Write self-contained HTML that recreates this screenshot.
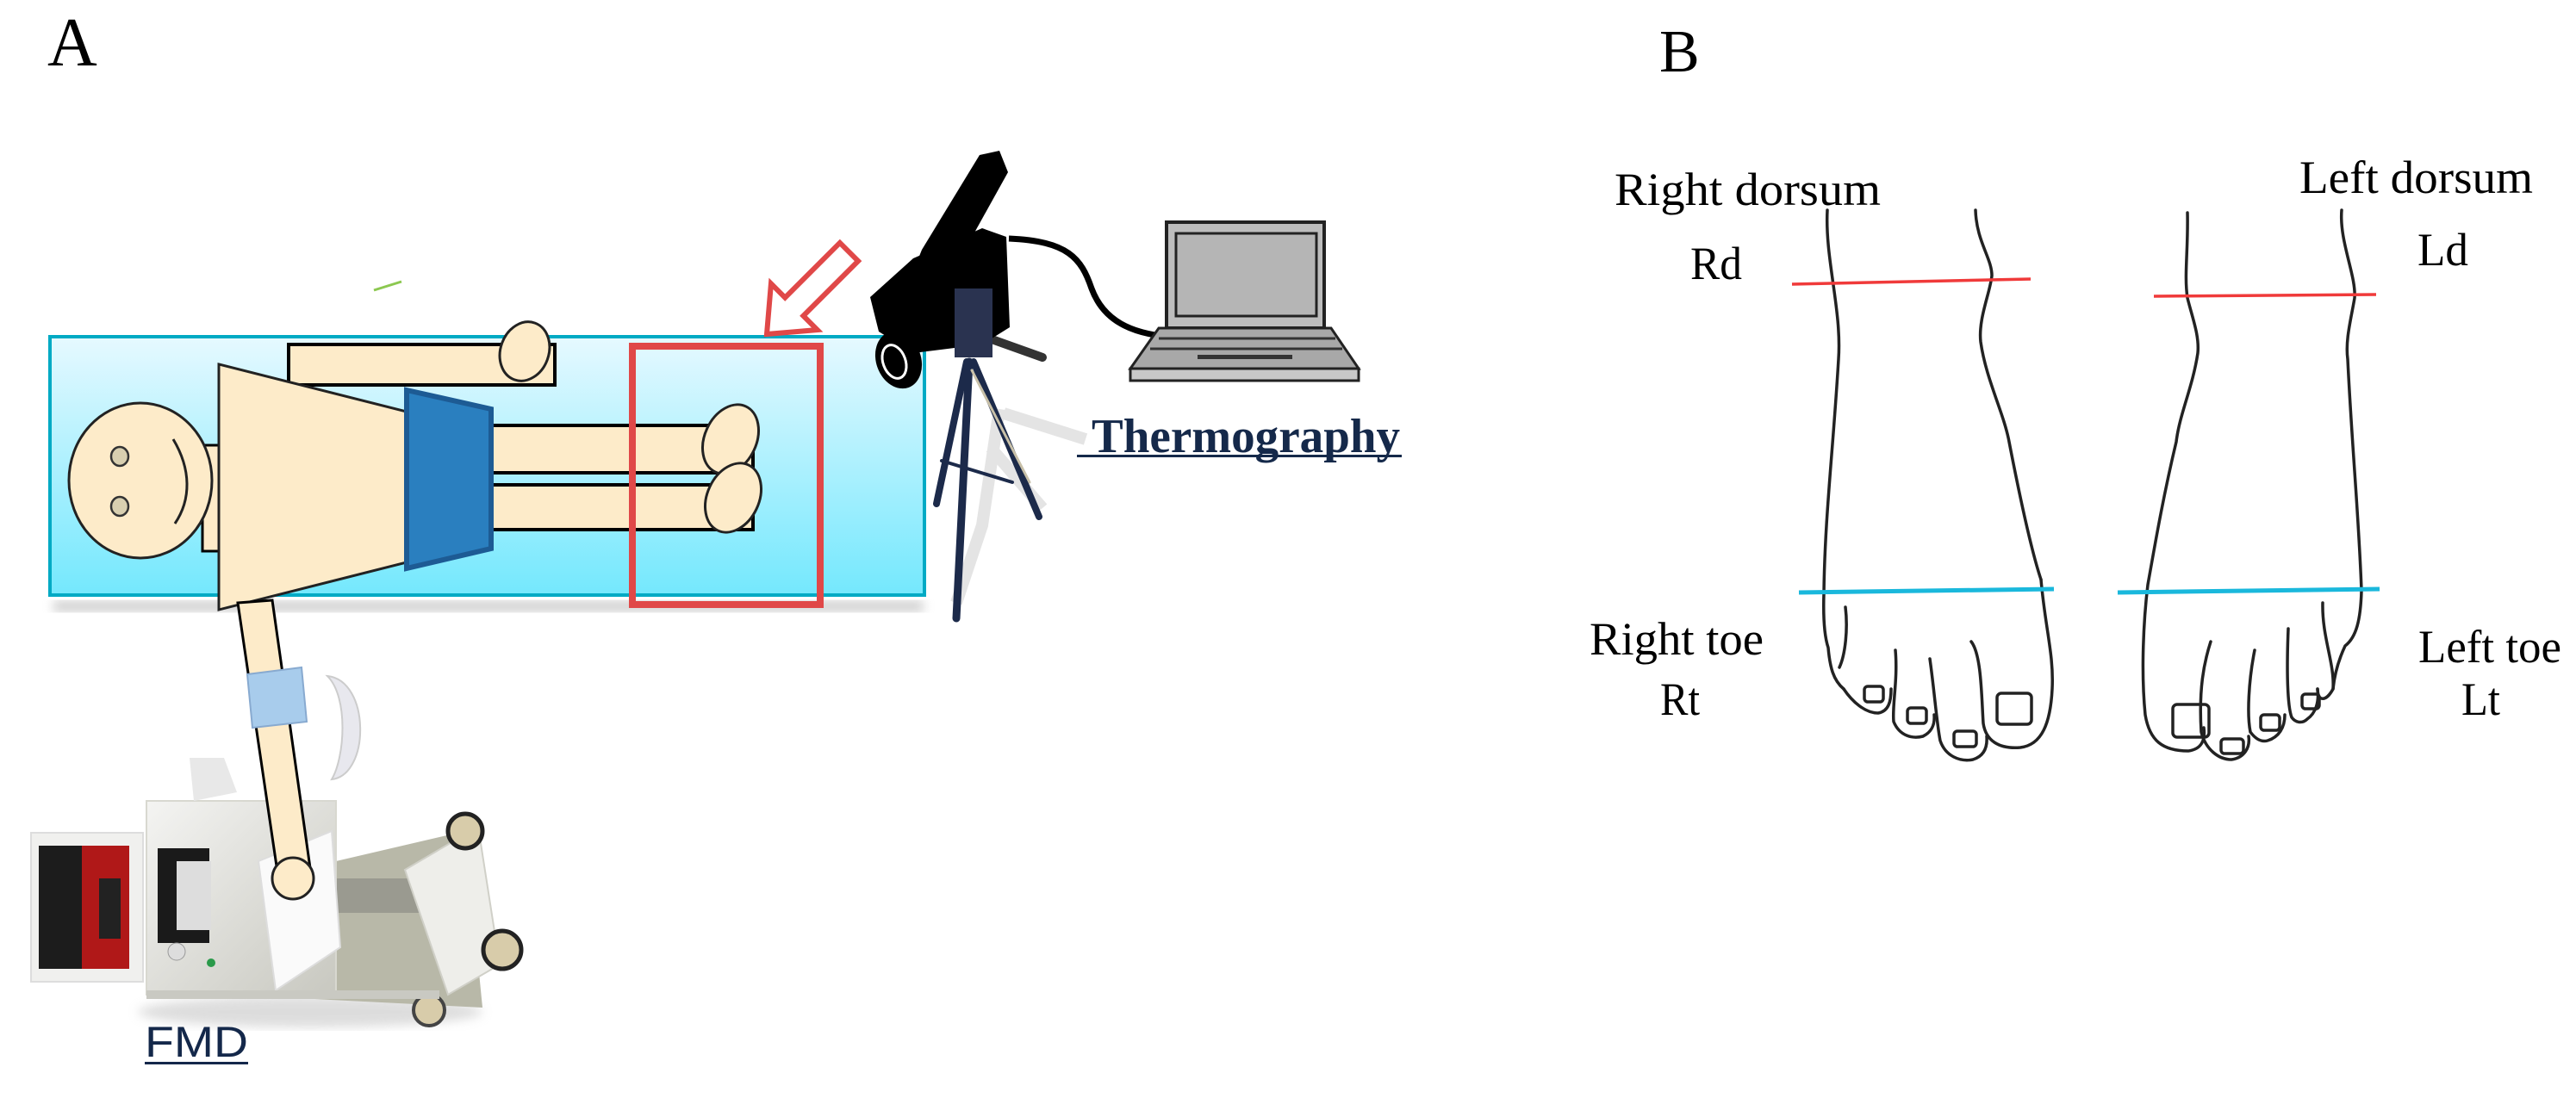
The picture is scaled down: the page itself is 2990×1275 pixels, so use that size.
<!DOCTYPE html>
<html><head><meta charset="utf-8"><style>
html,body{margin:0;padding:0;background:#fff}
svg{display:block}
</style></head><body>
<svg width="2990" height="1275" viewBox="0 0 2990 1275" xmlns="http://www.w3.org/2000/svg">
<defs>
<linearGradient id="bed" x1="0" y1="0" x2="0" y2="1">
<stop offset="0" stop-color="#e6f9ff"/><stop offset="1" stop-color="#74e8fd"/>
</linearGradient>
<linearGradient id="metal" x1="0" y1="0" x2="1" y2="1">
<stop offset="0" stop-color="#f4f4f2"/><stop offset="1" stop-color="#c8c8c0"/>
</linearGradient>
<filter id="blur"><feGaussianBlur stdDeviation="6"/></filter>
</defs>
<rect width="2990" height="1275" fill="#fff"/>

<!-- Panel A -->
<text x="55" y="76" font-family="Liberation Serif, serif" font-size="80" fill="#000">A</text>
<line x1="434" y1="337" x2="466" y2="327" stroke="#8cc850" stroke-width="3"/>

<!-- bed -->
<rect x="62" y="698" width="1010" height="12" fill="#999" opacity="0.5" filter="url(#blur)"/>
<rect x="58" y="391" width="1015" height="300" fill="url(#bed)" stroke="#00aac4" stroke-width="4"/>

<!-- top arm -->
<rect x="335" y="400" width="309" height="47" fill="#fdebc9" stroke="#000" stroke-width="4"/>
<ellipse cx="609" cy="408" rx="28" ry="35" transform="rotate(20 609 408)" fill="#fdebc9" stroke="#222" stroke-width="3"/>
<rect x="235" y="517" width="22" height="123" fill="#fdebc9" stroke="#000" stroke-width="3"/>
<ellipse cx="163" cy="558" rx="83" ry="90" fill="#fdebc9" stroke="#222" stroke-width="3"/>
<ellipse cx="139" cy="530" rx="10" ry="11" fill="#d8cfb0" stroke="#333" stroke-width="2.5"/>
<ellipse cx="139" cy="588" rx="10" ry="11" fill="#d8cfb0" stroke="#333" stroke-width="2.5"/>
<path d="M201,510 C222,545 222,580 203,608" fill="none" stroke="#222" stroke-width="3"/>
<rect x="565" y="494" width="309" height="55" fill="#fdebc9" stroke="#000" stroke-width="4"/>
<rect x="565" y="563" width="309" height="52" fill="#fdebc9" stroke="#000" stroke-width="4"/>
<ellipse cx="848" cy="510" rx="42" ry="30" transform="rotate(-65 848 510)" fill="#fdebc9" stroke="#222" stroke-width="3"/>
<ellipse cx="851" cy="578" rx="42" ry="30" transform="rotate(-65 851 578)" fill="#fdebc9" stroke="#222" stroke-width="3"/>
<polygon points="254,423 472,478 472,653 254,708" fill="#fdebc9" stroke="#222" stroke-width="3"/>
<polygon points="472,453 570,475 570,637 472,660" fill="#2a7fbf" stroke="#1d5b94" stroke-width="6"/>

<!-- red box -->
<rect x="734" y="402" width="218" height="300" fill="none" stroke="#e04848" stroke-width="8"/>
<g transform="translate(890,388) rotate(135)">
<polygon points="0,0 -45,-38 -45,-15 -135,-15 -135,15 -45,15 -45,38" fill="#fff" stroke="#e04848" stroke-width="6"/>
</g>

<!-- FMD machine -->
<g>
<ellipse cx="360" cy="1175" rx="200" ry="18" fill="#bbb" opacity="0.5" filter="url(#blur)"/>
<polygon points="170,1150 560,1170 540,965 390,1000 390,1150" fill="#b8b8a8"/>
<polygon points="390,1020 525,1020 525,1060 390,1060" fill="#9a9a90"/>
<polygon points="470,1010 555,960 580,1120 520,1155" fill="#eeeeea" stroke="#d0d0c8" stroke-width="2"/>
<rect x="36" y="967" width="130" height="173" fill="#f0f0ee" stroke="#ddd" stroke-width="2"/>
<rect x="45" y="982" width="50" height="143" fill="#1c1c1c"/>
<rect x="95" y="982" width="55" height="143" fill="#b01818"/>
<rect x="115" y="1020" width="25" height="70" fill="#222"/>
<rect x="170" y="930" width="220" height="225" fill="url(#metal)" stroke="#d8d8d0" stroke-width="2"/>
<rect x="183" y="985" width="60" height="110" fill="#1a1a1a"/>
<rect x="205" y="1000" width="40" height="80" fill="#ddd"/>
<circle cx="205" cy="1105" r="10" fill="#ddd" stroke="#999"/>
<circle cx="245" cy="1118" r="5" fill="#2a9a4a"/>
<polygon points="220,880 260,880 275,920 225,930" fill="#e8e8e8"/>
<polygon points="300,1000 385,965 395,1100 320,1150" fill="#fafafa" stroke="#ddd" stroke-width="2"/>
<circle cx="540" cy="965" r="20" fill="#d8ccaa" stroke="#222" stroke-width="5"/>
<circle cx="583" cy="1103" r="22" fill="#d8ccaa" stroke="#222" stroke-width="5"/>
<circle cx="498" cy="1173" r="18" fill="#d8ccaa" stroke="#444" stroke-width="4"/>
<rect x="170" y="1150" width="340" height="10" fill="#c9c9c2"/>
</g>
<path d="M380,785 C430,790 430,900 385,905 C400,880 405,810 380,785 Z" fill="#e8e8ee" stroke="#ccc" stroke-width="2"/>
<polygon points="276,700 316,697 362,1022 324,1026" fill="#fdebc9" stroke="#000" stroke-width="3"/>
<polygon points="287,783 350,775 356,838 293,845" fill="#a8ccec" stroke="#88aad0" stroke-width="2"/>
<circle cx="340" cy="1020" r="24" fill="#fdebc9" stroke="#222" stroke-width="3"/>
<text x="168" y="1227" font-family="Liberation Sans, sans-serif" font-size="50" fill="#14284a" textLength="120" lengthAdjust="spacingAndGlyphs">FMD</text>
<rect x="168" y="1233" width="120" height="3" fill="#14284a"/>

<!-- camera cable -->
<path d="M1171,277 C1240,280 1255,300 1267,335 C1280,370 1310,390 1372,392" fill="none" stroke="#000" stroke-width="7"/>
<path d="M1160,475 L1140,610 L1110,700 M1165,480 L1260,510 M1150,520 L1210,590" stroke="#ddd" stroke-width="14" fill="none" opacity="0.8"/>
<g stroke-linecap="round">
<line x1="1125" y1="420" x2="1110" y2="718" stroke="#1c2a4a" stroke-width="9"/>
<line x1="1122" y1="420" x2="1087" y2="585" stroke="#1c2a4a" stroke-width="8"/>
<line x1="1130" y1="420" x2="1206" y2="600" stroke="#1c2a4a" stroke-width="8"/>
<line x1="1128" y1="430" x2="1195" y2="560" stroke="#c8c0a8" stroke-width="3"/>
<line x1="1093" y1="535" x2="1175" y2="560" stroke="#1c2a4a" stroke-width="4"/>
<line x1="1154" y1="395" x2="1210" y2="415" stroke="#333" stroke-width="10"/>
</g>
<g fill="#000">
<polygon points="1137,180 1160,175 1170,200 1120,290 1095,330 1050,340 1070,290"/>
<path d="M1060,300 L1140,265 L1168,275 L1172,380 L1140,400 L1060,410 L1020,385 L1010,345 Z"/>
<ellipse cx="1043" cy="418" rx="26" ry="34" transform="rotate(-20 1043 418)"/>
</g>
<ellipse cx="1038" cy="420" rx="13" ry="20" transform="rotate(-20 1038 420)" fill="none" stroke="#fff" stroke-width="3"/>
<rect x="1108" y="335" width="44" height="80" fill="#2a3350"/>

<!-- laptop -->
<rect x="1354" y="258" width="183" height="123" fill="#bdbdbd" stroke="#222" stroke-width="4"/>
<rect x="1365" y="271" width="163" height="96" fill="#b5b5b5" stroke="#222" stroke-width="3"/>
<polygon points="1345,381 1545,381 1577,428 1312,428" fill="#a8a8a8" stroke="#222" stroke-width="3"/>
<line x1="1345" y1="393" x2="1550" y2="393" stroke="#333" stroke-width="3"/>
<line x1="1335" y1="405" x2="1558" y2="405" stroke="#333" stroke-width="3"/>
<rect x="1390" y="412" width="110" height="5" fill="#333"/>
<rect x="1312" y="428" width="265" height="14" fill="#c8c8c8" stroke="#222" stroke-width="3"/>
<text x="1267" y="525" font-family="Liberation Serif, serif" font-size="56" font-weight="bold" fill="#15294a" textLength="358" lengthAdjust="spacingAndGlyphs">Thermography</text>
<rect x="1250" y="528" width="377" height="3" fill="#15294a"/>

<!-- Panel B -->
<text x="1926" y="83" font-family="Liberation Serif, serif" font-size="70" fill="#000">B</text>
<g font-family="Liberation Serif, serif" font-size="54" fill="#000">
<text x="1874" y="238" textLength="309" lengthAdjust="spacingAndGlyphs">Right dorsum</text>
<text x="1962" y="324" textLength="60" lengthAdjust="spacingAndGlyphs">Rd</text>
<text x="2669" y="224" textLength="271" lengthAdjust="spacingAndGlyphs">Left dorsum</text>
<text x="2806" y="308" textLength="59" lengthAdjust="spacingAndGlyphs">Ld</text>
<text x="1845" y="760" textLength="202" lengthAdjust="spacingAndGlyphs">Right toe</text>
<text x="1927" y="830" textLength="46" lengthAdjust="spacingAndGlyphs">Rt</text>
<text x="2807" y="769" textLength="166" lengthAdjust="spacingAndGlyphs">Left toe</text>
<text x="2857" y="830" textLength="45" lengthAdjust="spacingAndGlyphs">Lt</text>
</g>

<g fill="none" stroke="#222" stroke-width="3.5" stroke-linecap="round" stroke-linejoin="round">
<path d="M2121,244 C2118,300 2138,360 2134,417 C2128,520 2118,600 2117,689 C2116,720 2118,740 2122,752 C2124,775 2128,790 2140,800"/>
<path d="M2142,705 C2145,730 2142,760 2135,775"/>
<path d="M2140,800 C2150,815 2165,828 2180,828 C2192,826 2195,815 2195,800"/>
<path d="M2200,755 C2203,790 2196,820 2198,838 C2205,855 2220,858 2232,855 C2242,850 2246,842 2245,830"/>
<path d="M2240,765 C2245,800 2248,840 2252,860 C2258,878 2275,885 2290,882 C2303,878 2307,868 2306,855"/>
<path d="M2288,745 C2300,760 2300,810 2302,840 C2305,860 2320,870 2345,868 C2370,865 2380,840 2382,800 C2384,760 2374,730 2369,673"/>
<path d="M2293,244 C2294,280 2312,300 2312,320 C2310,340 2296,370 2299,397 C2305,440 2326,480 2332,513 C2345,580 2358,640 2369,673"/>
<rect x="2164" y="797" width="22" height="18" rx="4"/>
<rect x="2214" y="822" width="22" height="18" rx="4"/>
<rect x="2268" y="849" width="26" height="18" rx="4"/>
<rect x="2318" y="805" width="40" height="36" rx="5"/>
<path d="M2539,247 C2540,290 2535,320 2539,346 C2545,370 2553,390 2551,410 C2545,450 2530,480 2526,513 C2510,580 2500,640 2493,679 C2488,720 2485,780 2490,830 C2495,860 2510,872 2540,872 C2555,870 2560,860 2558,845"/>
<path d="M2566,745 C2558,770 2552,800 2555,850 C2560,870 2575,882 2590,882 C2605,880 2612,868 2610,855"/>
<path d="M2617,755 C2610,790 2608,830 2612,850 C2618,858 2625,862 2632,860 C2645,856 2652,845 2652,830"/>
<path d="M2656,730 C2654,780 2655,820 2660,833 C2665,840 2673,840 2678,835 C2688,828 2692,815 2690,800"/>
<path d="M2696,700 C2695,740 2710,770 2708,800 C2700,815 2690,815 2690,800"/>
<path d="M2718,244 C2715,280 2735,320 2733,346 C2729,370 2722,395 2725,417 C2730,520 2738,600 2741,686 C2740,720 2735,740 2722,750 C2715,765 2710,780 2708,800"/>
<rect x="2522" y="818" width="42" height="38" rx="5"/>
<rect x="2578" y="858" width="26" height="17" rx="4"/>
<rect x="2624" y="830" width="22" height="18" rx="4"/>
<rect x="2672" y="806" width="20" height="17" rx="4"/>
</g>
<line x1="2080" y1="330" x2="2357" y2="324" stroke="#f03a3a" stroke-width="3.5"/>
<line x1="2500" y1="344" x2="2758" y2="342" stroke="#f03a3a" stroke-width="3.5"/>
<line x1="2088" y1="688" x2="2384" y2="684" stroke="#1ab8dc" stroke-width="5"/>
<line x1="2458" y1="688" x2="2762" y2="684" stroke="#1ab8dc" stroke-width="5"/>
</svg>
</body></html>
